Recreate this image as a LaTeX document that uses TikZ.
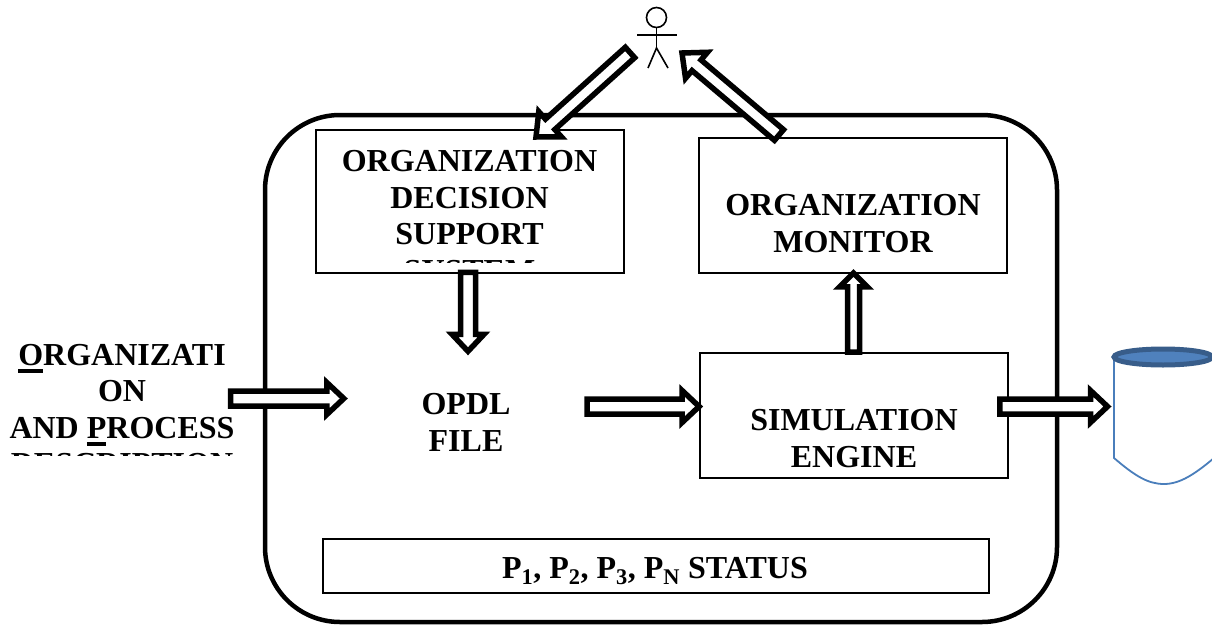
\documentclass[tikz,border=0pt]{standalone}
\usepackage{fontspec}
\setmainfont{Liberation Serif}
\usetikzlibrary{calc,shapes.geometric}
\definecolor{dbline}{HTML}{4A7EBB}
\definecolor{dbedge}{HTML}{385D8A}
\definecolor{dbfill}{HTML}{4F81BD}
\newcommand{\ulet}[1]{\setbox0=\hbox{#1}\rlap{\rule[-7.5pt]{\wd0}{3.5pt}}\box0}
\begin{document}
\begin{tikzpicture}[x=1pt,y=-1pt,
boxnode/.style={draw=black,line width=1.8pt,minimum width=#1},
lbl/.style={black,align=center,font=\fontsize{32}{36.5}\selectfont\bfseries},
blockarrow/.style n args={3}{draw=black,fill=white,line width=5.5pt,to path={
($(\tikztostart)!#1!90:(\tikztotarget)$) --
($($(\tikztotarget)!#3!(\tikztostart)$)!#1!90:(\tikztotarget)$) --
($($(\tikztotarget)!#3!(\tikztostart)$)!#2!90:(\tikztotarget)$) --
(\tikztotarget) --
($($(\tikztotarget)!#3!(\tikztostart)$)!#2!-90:(\tikztotarget)$) --
($($(\tikztotarget)!#3!(\tikztostart)$)!#1!-90:(\tikztotarget)$) --
($(\tikztostart)!#1!-90:(\tikztotarget)$) -- cycle}},
bigarrow/.style={blockarrow={7.5pt}{16pt}{17pt}}]
\useasboundingbox (0,0) rectangle (1212,626);
\node at (661,368.5) [draw=black,line width=4.5pt,rounded corners=75pt,minimum width=792,minimum height=507] (system) {};
\node at (470,201.5) [boxnode=308,minimum height=143] (odss) {};
\node at (853,205.5) [boxnode=308,minimum height=135] (monitor) {};
\node at (854,415.5) [boxnode=308,minimum height=125] (sim) {};
\node at (656,566) [boxnode=666,minimum height=54] (status) {};
\begin{scope}
\clip (316,130) rectangle (624,262);
\node at (469.5,216) [lbl] (odsstext) {ORGANIZATION\\DECISION\\SUPPORT\\SYSTEM};
\end{scope}
\begin{scope}
\clip (0,330) rectangle (240,455);
\node at (122,409.5) [lbl] (orgtext) {\ulet{O}RGANIZATI\\ON\\AND \ulet{P}ROCESS\\DESCRIPTION};
\end{scope}
\node at (853,223.5) [lbl] (monitortext) {ORGANIZATION\\MONITOR};
\node at (854,438.5) [lbl] (simtext) {SIMULATION\\ENGINE};
\node at (466,422.5) [lbl,minimum width=242,minimum height=142] (opdl) {OPDL\\FILE};
\node at (655,571) [lbl] (statustext) {P\textsubscript{1}, P\textsubscript{2}, P\textsubscript{3}, P\textsubscript{N} STATUS};
\draw[dbline,line width=1.8pt] (1114,357)--(1114,458) .. controls (1135,476) and (1148,484) .. (1164,484) .. controls (1180,484) and (1195,474) .. (1214,458);
\node at (1163,357) [ellipse,draw=dbedge,fill=dbfill,line width=5pt,minimum width=98,minimum height=16,inner sep=0pt] (dbtop) {};
\node at (656.5,17.5) [circle,draw=black,line width=1.6pt,minimum size=20,inner sep=0pt] (head) {};
\coordinate (hip) at (656.5,48);
\coordinate (armleft) at (637,35);
\coordinate (armright) at (677,35);
\coordinate (footleft) at (648,68);
\coordinate (footright) at (668,68);
\draw[black,line width=1.6pt] (head.south)--(hip);
\draw[black,line width=1.6pt] (armleft)--(armright);
\draw[black,line width=1.6pt] (footleft)--(hip)--(footright);
\coordinate (orgout) at (230.5,398.5);
\coordinate (actorout) at (630,52.5);
\coordinate (actorin) at (682,53);
\coordinate (odssin) at (536,137);
\coordinate (monitorout) at (779,135);
\draw[bigarrow] (orgout) to ($(opdl.west)+(-1,-24)$);
\draw[bigarrow] ($(opdl.north)+(2,-79)$) to ($(opdl.north)+(2,0)$);
\draw[bigarrow] ($(opdl.east)+(0,-16)$) to ($(sim.west)+(0,-9)$);
\draw[blockarrow={6pt}{14pt}{14pt}] ($(sim.north)+(-0.5,0)$) to ($(monitor.south)+(0.5,-1)$);
\draw[bigarrow] ($(sim.east)+(-9,-9)$) to ($(dbtop.west)+(-4,49.5)$);
\draw[blockarrow={7pt}{17pt}{19pt}] (actorout) to (odssin);
\draw[blockarrow={7pt}{17pt}{19pt}] (monitorout) to (actorin);
\end{tikzpicture}
\end{document}
